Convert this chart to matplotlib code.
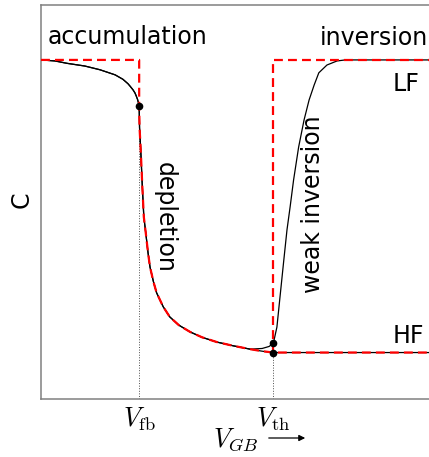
import matplotlib
matplotlib.use("Agg")
from matplotlib import pyplot as plt

plt.rcParams['font.family'] = ['DejaVu Sans']
plt.rcParams['mathtext.fontset'] = 'cm'

# gate voltage (arb. units) and normalised capacitance C/Cox
v_fb = 2.53
v_th = 5.99
c_ox = 1.0
c_min = 0.137

# smooth accumulation roll-off of the real curve
acc_v = [0.0, 0.36, 0.67, 1.13, 1.52, 1.91, 2.11, 2.24, 2.30, 2.37, 2.42,
         2.45, 2.49, 2.51, 2.53]
acc_c = [1.0, 0.997, 0.990, 0.982, 0.971, 0.956, 0.943, 0.930, 0.922, 0.912,
         0.903, 0.895, 0.883, 0.874, 0.864]

# depletion branch, shared by ideal and real curves
dep_v = [2.53, 2.54, 2.57, 2.61, 2.65, 2.70, 2.76, 2.81, 2.90, 2.98,
         3.15, 3.32, 3.55, 3.84, 4.15, 4.53, 4.95, 5.39, 5.70, 5.99]
dep_c = [0.864, 0.80, 0.735, 0.63, 0.537, 0.49, 0.43, 0.389, 0.345, 0.313,
         0.272, 0.242, 0.218, 0.198, 0.182, 0.168, 0.157, 0.147, 0.141, 0.137]

# low-frequency rise through weak inversion
lf_v = [5.39, 5.70, 5.88, 5.99, 6.08, 6.16, 6.25, 6.34, 6.42, 6.51, 6.64,
        6.78, 6.91, 7.04, 7.16, 7.37, 7.63, 7.84, 10.0]
lf_c = [0.147, 0.149, 0.155, 0.165, 0.212, 0.301, 0.401, 0.499, 0.566, 0.646,
        0.743, 0.823, 0.882, 0.926, 0.962, 0.985, 0.997, 1.0, 1.0]

fig = plt.figure(figsize=(4.29, 4.57), dpi=100)
ax = fig.add_axes([41 / 429, 58 / 457, 388 / 429, 394 / 457])
ax.set_xlim(0, 10)
ax.set_ylim(0, 1.162)

# real curves (black)
i_lf = dep_v.index(5.39)
ax.plot(acc_v + dep_v[:i_lf] + lf_v, acc_c + dep_c[:i_lf] + lf_c,
        color='black', lw=0.9, zorder=3)
ax.plot(acc_v + dep_v + [10.0], acc_c + dep_c + [c_min],
        color='black', lw=0.9, zorder=3)

# ideal curves (red dashed)
ideal_v = [0.0, v_fb] + dep_v + [10.0]
ideal_c = [c_ox, c_ox] + dep_c + [c_min]
ax.plot(ideal_v, ideal_c, color='red', lw=1.6, dashes=(4, 2.3), zorder=4)
ax.plot([v_th, v_th, 10.0], [c_min, c_ox, c_ox],
        color='red', lw=1.6, dashes=(4, 2.3), zorder=4)

# guide lines down to the axis
ax.plot([v_fb, v_fb], [0, 0.864], color='0.3', lw=0.7, ls=':', zorder=2)
ax.plot([v_th, v_th], [0, c_min], color='0.3', lw=0.7, ls=':', zorder=2)

ax.plot([v_fb, v_th, v_th], [0.864, 0.165, c_min], 'o', color='black',
        ms=4.5, zorder=5)

txt = dict(fontsize=17, color='black')
ax.text(0.18, 1.047, 'accumulation', ha='left', va='baseline', **txt)
ax.text(9.97, 1.044, 'inversion', ha='right', va='baseline', **txt)
ax.text(9.07, 0.909, 'LF', ha='left', va='baseline', **txt)
ax.text(9.05, 0.165, 'HF', ha='left', va='baseline', **txt)
ax.text(3.20, 0.534, 'depletion', rotation=-90, ha='center', va='center', **txt)
ax.text(7.01, 0.575, 'weak inversion', rotation=90, ha='center', va='center', **txt)

for s in ax.spines.values():
    s.set_color('#808080')
    s.set_linewidth(1.1)
ax.spines['right'].set_visible(False)

ax.set_yticks([])
ax.set_xticks([v_fb, v_th])
ax.set_xticklabels([r'$V_\mathrm{fb}$', r'$V_\mathrm{th}$'], fontsize=19)
ax.tick_params(axis='x', length=0, pad=5)

fig.text(22 / 429, 1 - 200 / 457, 'C', rotation=90, ha='center', va='center',
         fontsize=17)
fig.text(236 / 429, 1 - 440 / 457, r'$V_{GB}$', ha='center', va='center',
         fontsize=19)
fig.add_artist(matplotlib.patches.FancyArrowPatch(
    (266 / 429, 1 - 438 / 457), (308 / 429, 1 - 438 / 457),
    transform=fig.transFigure, arrowstyle='-|>', mutation_scale=9,
    color='black', lw=0.9))

fig.savefig('out.png', dpi=100)
